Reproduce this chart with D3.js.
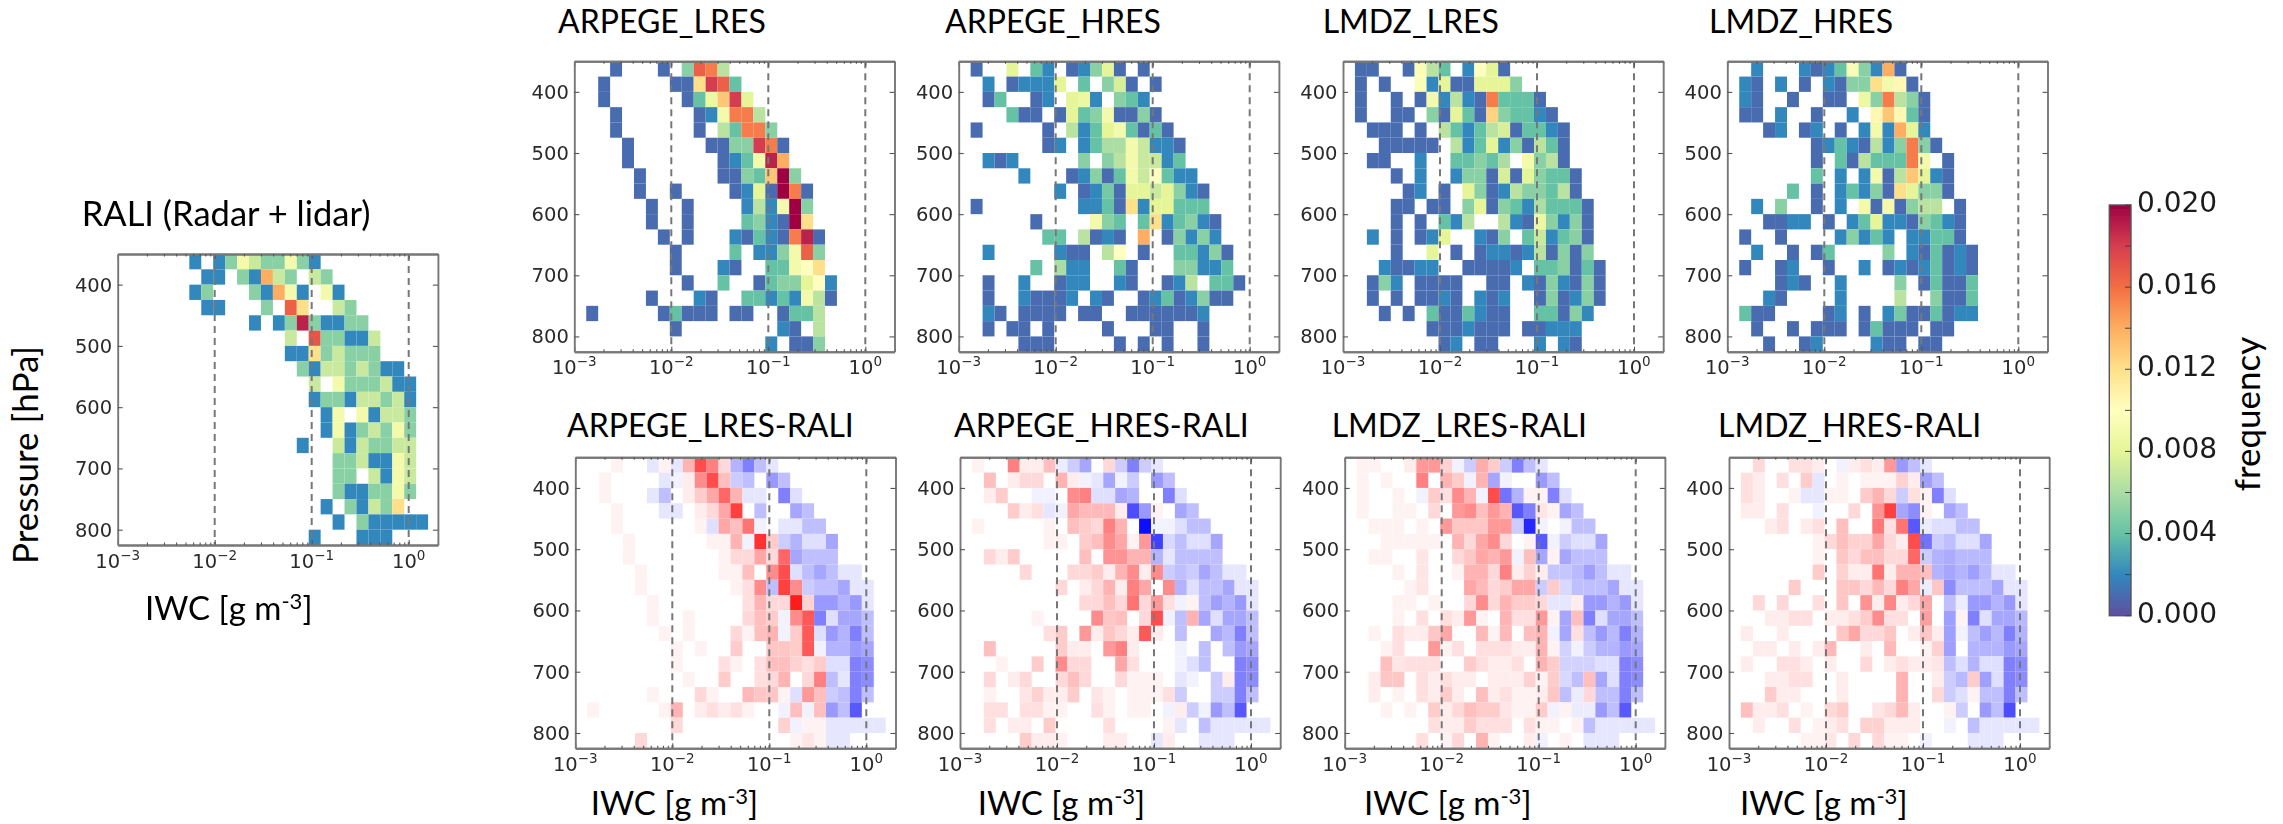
<!DOCTYPE html>
<html><head><meta charset="utf-8">
<script src="https://cdn.jsdelivr.net/npm/d3@7"></script>
<style>html,body{margin:0;background:#fff;overflow:hidden}</style></head><body><div id="c"></div>
<script>
// Each row: first number = first filled column, then values (frequency x 1000, 0 = empty)
const rali=[[6,2,0,2,5,9,7,5,5,9,5,2],[7,2,2,0,5,2,14,7,5,0,7,5],[6,2,5,0,0,0,5,2,14,9,2,0,9,2],[7,2,2,0,0,0,5,0,16.5,12,0,0,7,5],[11,2,0,2,5,19,5,2,2,5,5],[14,7,0,17,5,5,2,2,7],[14,2,2,12,5,7,5,5,5],[15,5,2,7,7,5,7,5,2,2],[16,7,0,9,5,5,5,7,2,2],[16,2,5,5,2,7,7,5,7,2],[17,2,9,0,9,2,7,7,5],[17,2,9,2,5,7,5,9,5],[15,2,0,0,7,2,7,5,5,7,7],[18,5,5,7,2,2,9,7],[18,5,5,0,7,2,9,7],[18,5,2,2,5,5,9,5],[17,2,0,5,2,7,5,12],[18,2,0,5,2,2,2,2,2],[16,2,0,0,0,2,2,2]];
const arpegeL=[[3,1,0,0,0,1,0,5,16.5,15.5,6.5],[2,1,0,0,0,0,0,1,1,12,18,16.5,4],[2,1,0,0,0,0,0,0,1,4,8.5,13,18,8],[3,1,0,0,0,0,0,0,1,2,9,15.5,15.5,6.5],[3,1,0,0,0,0,0,0,1,0,6.5,4,15.5,15.5,5],[4,1,0,0,0,0,0,0,1,1,5,5,18,15.5,1],[4,1,0,0,0,0,0,0,0,1,2,4,9,19,14],[5,1,0,0,0,0,0,0,1,1,5,4,13,20,5],[5,1,0,0,1,0,0,0,0,1,2,8,1,20,15.5,1],[6,1,0,0,1,0,0,0,0,2,6.5,2,9,20,5],[6,1,0,0,1,0,0,0,0,4,5,2,1,20,12],[7,1,0,1,0,0,0,2,1,4,2,1,15.5,19,1],[8,1,0,0,0,0,4,0,2,2,5,9,16.5,5],[8,1,0,0,0,2,1,0,0,4,4,9,10,12],[9,1,0,0,4,0,0,1,4,5,5,8,10,2],[6,1,0,0,0,2,1,0,0,4,4,2,4,2,9,6.5,1],[1,1,0,0,0,0,0,1,4,1,1,1,0,1,1,0,0,1,4,4,6.5],[8,1,0,0,0,0,0,0,0,0,2,1,0,6.5],[16,2,0,1,1,5]];
const arpegeH=[[1,1,0,0,8,0,4,2,0,1,2,5,8,1,0,1],[2,2,0,1,2,2,2,8,0,4,0,5,7.5,1,0,1],[2,1,4,0,0,1,2,0,8,8.5,2,0,5,4,2],[4,4,1,1,0,1,8,4,5,9,1,1,5,1],[1,1,0,0,0,0,0,1,0,6.5,2,4,8,9,4,1,4,1],[7,1,2,0,2,4,6,6,9,7,2,2,1],[2,2,1,2,0,0,0,0,0,5,0,5,6.5,9,7,7,2,4],[5,2,0,0,0,1,2,5,1,4,9,7,10,4,2,2],[8,2,0,1,2,4.5,1,8,8,7,8,5,2,1],[1,1,0,0,0,0,0,0,0,0,2,2,4,1,12,2,8,8,4,4,4],[6,1,0,0,0,0,9,5,4,0,4,12,2,4,5,2,1],[7,4,4,0,6.5,1,2,1,0,14,0,1,5,2,5,2],[2,2,0,0,0,0,0,2,1,1,0,6.5,10,0,1,0,0,4,4,2,5,1],[6,4,0,6,2,2,0,0,4,1,0,0,0,5,5,2,2,4],[2,1,0,0,2,0,0,1,2,2,0,0,2,1,0,0,1,2,6.5,0,4,4,1],[2,1,0,0,2,1,1,1,2,0,2,1,0,0,1,2,4,1,2,5,1,1],[2,2,1,0,1,1,1,1,0,1,1,0,0,1,1,1,1,1,1,2],[2,1,0,1,1,0,1,0,0,0,0,1,0,0,0,1,1,0,0,1],[5,1,1,1,0,0,0,0,0,1,0,1,0,1,0,0,1]];
const lmdzL=[[1,1,1,0,0,1,9.5,6.5,4,0,2,10,8,1],[1,1,0,1,0,0,9.5,2,8,1,1,8,8,8,5],[1,1,0,0,1,0,1,9,2,6.5,2,1,15.5,4,4,4,1],[1,1,0,0,1,1,0,5,1,8,4,1,12.5,5,4,4,2,1],[2,1,1,1,0,1,0,6.5,4,2,4,6.5,7.5,1,4,4,2,1],[3,1,1,1,1,1,0,6.5,2,4,8,2,5,1,6.5,4,1],[2,1,1,0,0,2,0,0,4,4,5,4,6,0,9,5,6.5,1],[4,1,0,2,0,0,2,5,5,1,7.5,1,8,5,4,4,1],[5,1,2,0,1,0,8,5,1,2,6.5,5,5,4,6.5,1],[4,1,1,0,1,1,0,5,8,1,5,4,2,6,4,4,4,1],[4,1,0,1,0,4,2,6.5,0,0,6.5,2,1,8.5,5,2,5,1],[2,2,0,1,0,1,2,8,0,0,2,1,5,0,4,7,2,4,5,1],[4,1,0,0,8,0,1,0,1,2,2,1,2,6.5,1,5,1,5],[3,2,1,1,2,2,0,0,1,1,1,1,2,0,4,4,5,1,4,1],[2,1,5,2,0,1,1,1,1,0,0,1,1,0,2,1,5,2,1,5,1],[2,1,0,1,0,1,1,2,1,0,2,1,2,0,0,1,5,1,2,5,1],[3,1,0,1,0,4,1,1,4,2,1,1,0,0,4,4,1,5,2],[7,1,1,1,2,1,1,1,0,1,1,2,2,2],[8,1,2,0,1,1,0,0,0,2,0,2,1]];
const lmdzH=[[2,2,0,0,0,2,1,2,4,9.5,5,2,14,1],[1,2,1,0,2,0,1,0,2,1,5,5,12,9,10.5,1],[1,2,1,0,0,1,0,0,1,1,0,8.5,5,15.5,6.5,5,1],[1,1,1,0,2,0,0,1,0,0,2,0,10.5,13,10.5,4,1],[3,1,2,0,1,2,0,1,0,2,9,2,14,8,2],[7,1,2,4,2,1,6.5,2,5,15.5,5,1],[7,1,0,4,1,6.5,4,4,4,15.5,9,0,1],[7,4,0,2,0,2,9,1,6.5,13,8,2,1],[5,4,0,1,0,2,4,2,5,1,12,8,5,5,1],[2,2,0,5,0,0,1,0,2,0,9,1,9,1,5,6.5,6.5,0,1],[3,1,1,2,2,0,1,0,2,4,8,2,2,1,5,4,2,1],[1,1,0,0,1,0,0,0,0,2,5,2,4,2,0,2,2,4,4,1],[2,2,0,0,1,0,1,4,0,0,0,0,5,0,2,1,4,1,2,1],[1,1,0,0,1,2,0,0,1,0,0,2,0,1,2,1,2,4,1,2,1],[4,1,2,1,0,0,2,0,0,0,0,5,0,1,4,1,1,4],[3,2,1,0,0,0,0,2,0,0,0,0,6.5,0,0,5,1,1,4],[1,4,1,1,0,0,0,0,1,2,0,1,0,2,4.5,1,1,4,1,2,2],[2,1,0,0,1,0,1,1,1,0,1,4,1,1,1,0,1,1],[3,1,0,0,1,2,0,0,0,0,2,1,1,0,1,1]];
const diffArpegeL=[[3,1,0,0,-2,1,-2,6,14,10,3,-6,-10,-5,-2],[2,1,0,0,0,0,-2,-1,1.5,9,14,5,-4,-5,0,-8,-5],[2,1,0,0,0,-2,-5,0,1.5,4,7,12,6,-2,-2,0,-10,-2.5],[3,1,0,0,0,-2,-2,0,1.5,3,7,15,0,-5,0,0,-7,-5],[3,1,0,0,0,0,0,0,1,-2.5,7,5,11,-1,0,-2,-2,-5,-5],[4,1,0,0,0,0,0,0,1,1,6,-1,16,4,-4,-6,-2.5,-2.5,-7],[4,1,0,0,0,0,0,0,0,1,3,3,7,3,12,-7,-5,-5,-5],[5,1,0,0,0,0,0,0,1,1,5,0,9,14,-2.5,-5,-7,-5,-2,-2],[5,1,0,0,0,0,0,0,0,1,2.5,9,-5,15,9,-4,-5,-5,-7,-2,-2],[6,1,0,0,0,0,0,0,0,2.5,6,3,3,18,3.5,-8,-8,-6,-8,-2],[6,1,0,0,1,0,0,0,0,3,5,4,-1,9,13,-10,-2.5,-7,-7,-5],[7,1,0,1,0,0,0,3,1,5,6,-1,4,13,-2.5,-8,-6,-10,-5],[8,1,0,1,0,0,4,0,0,4.5,4.5,4,13,-1,-6,-6,-8,-7],[8,1,0,0,0,2.5,1,0,2.5,5,5,3.5,2.5,4,-2.5,-2.5,-10,-9],[9,1,0,0,4,0,0,2.5,3,6,0,3,10,-5,-2,-10,-9],[6,1,0,0,0,3,1,0,0,5.5,4.5,4.5,1,-2.5,8,5,-4,-5,-10,-5],[1,1,0,0,0,0,0,1,6,0,1.5,2.5,1.5,2.5,1,0,0,-1,5,-1,5,-8,-5,-13],[8,3,0,0,0,0,0,0,0,0,3.5,-1,1,1,-2,-2,-2,-2,-2],[5,3,0,0,0,0,0,0,0,0,0,0,0,0,1,2,1,-2,-2]];
const diffArpegeH=[[1,1,0,0,10,1.5,1.5,5,-1.5,-4,-7,0,3,-4,-10,-4,-2],[2,5,0,1.5,3,3,0,6,1.5,-1,-2,-7,-1,-4,0,-8,-5],[2,1.5,4,0,0,-1,-1,0,9,10,-2.5,-2.5,-7,-6,0,0,-10,-2.5],[4,4,1.5,2.5,-2,-1,7,5.5,5.5,5.5,1.5,-14,-8,1,0,-7,-5],[1,1,0,0,0,0,0,1,0,5,4,3,10,6,0,-19,-1,-1,-2.5,-5,-5],[7,1,1,0,4,5,9,7,1,8,-15,-3,-5,-2.5,-2.5,-7],[2,3,1.5,4,0,0,0,0,0,5,0,8.5,8.5,6,6,-6,-2,-5,-5,-5,-5],[5,3,0,0,0,3,3,4,1.5,6,9,1.5,9,-4,-5,-4,-7,-5,-2,-2],[8,3,0,1.5,3,6,1.5,10,7,0,9,-6,-2.5,-5,-5,-7,-2,-2],[10,3,3,5,3,11,3,8,2.5,-1,1,-5,-7.5,-6,-8,-2],[6,1,0,0,0,0,9,4.5,5,0,3,14,-1,-5,6,-7,-2.5,-7,-7,-5],[7,2.5,4,0,8,1.5,4.5,3,1.5,13,1.5,0,-5,0,0,-7,-5.5,-10,-5],[2,5,0,0,0,0,0,4,1.5,1.5,0,8,10,1.5,0,0,0,-1,0,-5,0,-5,-8,-7],[3,1,0,0,4,0,9,3,3,0,0,7,2.5,0,0,0,-1,-2.5,-5,0,0,-10,-9],[2,3,0,1.5,3,0,0,3,5,3,0,0,3,1,1,1,0,-2,-1,0,-4,1.5,-10,-9],[2,1,0,0,2,3.5,1.5,1.5,4,0,2,1,0,1,1,1,2.5,-4,0,0,-4,-4,-10,-5],[2,2.5,2.5,0,2.5,2.5,1,1,0,0,2.5,1,0,1,1,0,-1,1.5,-4,-1,-8,-5,-13],[2,2.5,0,1.5,1.5,0,4,0,0,0,0,2.5,0,0,0,0,1,-2,0,-5,-2,-2,-2,-2,-2],[5,4,1.5,1.5,1,0,0,0,1.5,1.5,0,0,-2,1.5,0,0,-2,-2,-2]];
const diffLmdzL=[[1,1,1,0,0,1.5,8,8,3.5,-1,-4,6.5,4,-4,-10,-5,-2],[1,1,0,1,0,0,10,0,6,4,-1,6,-7,-1,0,0,-8,-5],[1,1,0,0,1,0,-1,4,2.5,9,6,-1,14,-11,-6,1,1,-10,-2.5],[1,1,0,0,1,1,0,3,0,8,9,5,8,6,-13,-10,2,1,-7,-5],[2,1,1,1,0,1,0,8,4.5,4.5,4.5,8,8,-4,-17,-1,0,-1,-5,-5],[3,1,1,1,1,1,0,6,3,7,9,3,0,1,-13,-1,-4,-2.5,-2.5,-7],[2,1,1,0,0,2,0,0,3,4.5,7,6,8,-1,5,-7,1,-7,-5,-5,-5],[4,1,0,2,0,0,1,6,6,3,10,1.5,3.5,1.5,-4.5,-4.5,-5.5,-7.5,-5,-2,-2],[5,1,2,0,0,0,7,5.5,3,4,7,7,-4,4,-3,-5,-5,-5,-7,-2,-2],[4,1,1,0,1,0,0,3,9,3,6,4,4,3,-2,-2,1.5,-8,-8,-6,-8,-2],[4,1,0,2.5,0,2.5,1.5,8,1,0,6,2.5,2.5,8,1,-7,5,-10,-2.5,-7,-7,-5],[2,1,0,2.5,1.5,1.5,4.5,7,0,0,5.5,1,5.5,0,5,6,-1,-7,2.5,-5,-8,-5.5,-10,-6],[3,1,2.5,0,0,8,1,2.5,0,2.5,2.5,2.5,1.5,1.5,6,1,-3.5,-1,-4,-6,-6,-8,-7],[3,5,2,2.5,2.5,2.5,0,0,4,2.5,1.5,1.5,2.5,0,6,4,-3.5,-3.5,-3.5,-2.5,-2.5,-10,-9],[2,1.5,4.5,4.5,0,2.5,1.5,2.5,1.5,1.5,0,1.5,1.5,1.5,3.5,1,4,-3,-5,5,-7,-2.5,-10,-9],[2,1.5,0,1,0,2.5,1.5,4,1.5,0,5,1.5,2.5,1,1,1.5,4.5,-5,-1.5,3,-5,-5,-10,-5],[3,1,0,1,0,4,1.5,3,5,4,4,2,1,1,4,-1,1,-1.5,-1.5,-8,-5,-13],[7,2.5,1.5,1.5,4,2.5,2.5,2.5,0,2.5,1,1,0,1,-5,-2,-2,-2,-2,-2],[6,2.5,0,1,3,0,6,1,0,0,1.5,-1,0,1,0,-2,-2,-2]];
const diffLmdzH=[[2,3,0,0,2.5,2.5,1.5,0,-1,1.5,2.5,1.5,8,-8,-5,-2],[1,2.5,1.5,0,2.5,0,4,-2,0,1,0,1,1,1,3.5,1.5,-7.5,-5],[1,2.5,1.5,0,0,1,-2,-2,1,1,0,4,6,3,-4,2.5,1,-10,-2.5],[1,1.5,1.5,0,2.5,0,0,-1,0,0,3,0,8.5,15,-7,-9,1,0,-7,-5],[3,1.5,2.5,0,1.5,2.5,0,5,0,0,10.5,2.5,11,-13,-1.5,-2.5,-2.5,-5,-5],[7,1,3,5,3.5,3.5,7,3,1.5,14,-11,-4,-5,-2.5,-2.5,-7],[7,1,0,4.5,3,5,5,3,3,12,-4,-6,-6.5,-5.5,-5.5,-5.5],[7,4,0,3.5,1.5,1.5,11,1.5,6,6,5,-6,-7,-6,-7.5,-5.5,-2,-2],[5,4,0,0,0,4.5,4.5,3,5.5,3,10,7,-1.5,4.5,-9,-5,-5,-5,-7,-2,-2],[2,3,0,3,0,0,2.5,0,4.5,0,8.5,1.5,9.5,1.5,3,7,0,-5,-1.5,-8,-8,-6,-8,-2],[3,1.5,1.5,2.5,2.5,0,1.5,1.5,2.5,4,9,2.5,2.5,0,7.5,0,-7.5,1,-10,-2.5,-7,-7,-5.5],[1,1.5,0,0,1.5,0,0,0,0,4.5,7,3,3,4.5,0,1.5,4.5,1.5,-7.5,-1,-5,-7.5,-5.5,-10,-6],[2,1.5,1.5,0,1.5,0,1.5,5.5,0,0,1.5,0,5.5,0,0,1,3.5,-7.5,0,-6,-6,-6,-8,-7],[1,1.5,0,0,2.5,2.5,1.5,0,1.5,0,0,3,0,1.5,2.5,1.5,1.5,2,-5,-2.5,-6,-2.5,-2.5,-10,-9],[3,1.5,1.5,2.5,2.5,0,0,1.5,0,0,0,0,6,0,0,1.5,-4,-5.5,4,-7.5,-2.5,-10,-9],[3,4,1.5,1.5,0,0,0,1.5,0,0,0,0,6,0,0,3,-4,-2.5,1,-5,-5,-10,-5],[1,5,1.5,1.5,2.5,0,1,0,3,4,0,0,2,3,5.5,1.5,0,0,1,-4,0,-8,-5,-14],[2,1.5,0,0,2.5,0,1,1.5,2.5,0,3.5,3.5,1.5,1.5,1.5,0,0,-1,0,-5,-2,-2,-2,-2,-2],[6,1,1,2,0,3,0,3,1,1,0,-1,0,0,0,-2,-2,-2]];

const xDecades=[-3,-2,-1,0];
const xRefLines=[0.01,0.1,1];
const yTicks=[400,500,600,700,800];
const pressureEdges=d3.range(350,826,25);
const log10Edges=d3.range(27).map(k=>-3+k*3.2/26);
const cbarTicks=[0,4,8,12,16,20];
const cbarMinor=[2,6,10,14,18];

const W=2283,H=824;
const svg=d3.select("#c").append("svg").attr("width",W).attr("height",H).style("display","block");
const defs=svg.append("defs");
defs.append("filter").attr("id","soft").attr("x","-5%").attr("y","-5%").attr("width","110%").attr("height","110%")
  .append("feGaussianBlur").attr("stdDeviation",0.55);
svg.append("rect").attr("width",W).attr("height",H).attr("fill","#fff");

const spectral=d3.scaleLinear().domain(d3.range(0,21,2))
  .range(["#5e4fa2","#3288bd","#66c2a5","#abdda4","#e6f598","#ffffbf","#fee08b","#fdae61","#f46d43","#d53e4f","#9e0142"]);
const bwr=d3.scaleLinear().domain([-20,0,20]).range(["#0000ff","#ffffff","#ff0000"]);

const CAL="Lato, Carlito, sans-serif", DJ="'DejaVu Sans', sans-serif", TXT="#2a2a2a";

function panel(o){
  const w=320.2,h=o.h;
  const x=d3.scaleLog().domain([1e-3,2]).range([o.x,o.x+w]);
  const y=d3.scaleLinear().domain([350,825]).range([o.y,o.y+h]);
  const g=svg.append("g").attr("filter","url(#soft)");
  const cells=[];
  o.data.forEach((row,r)=>row.slice(1).forEach((v,i)=>{ if(v!==0) cells.push({r,c:row[0]+i,v}); }));
  g.selectAll("rect.cell").data(cells).join("rect").attr("class","cell")
    .attr("x",d=>x(Math.pow(10,log10Edges[d.c])))
    .attr("width",d=>x(Math.pow(10,log10Edges[d.c+1]))-x(Math.pow(10,log10Edges[d.c])))
    .attr("y",d=>y(pressureEdges[d.r]))
    .attr("height",d=>y(pressureEdges[d.r+1])-y(pressureEdges[d.r]))
    .attr("fill",d=>o.color(d.v));
  g.selectAll("line.ref").data(xRefLines).join("line").attr("class","ref")
    .attr("x1",d=>x(d)).attr("x2",d=>x(d)).attr("y1",o.y).attr("y2",o.y+h)
    .attr("stroke","#777").attr("stroke-width",2).attr("stroke-dasharray","7,5");
  const majors=xDecades.map(d=>Math.pow(10,d));
  const minors=[];
  xDecades.forEach(d=>d3.range(2,10).forEach(m=>{const v=m*Math.pow(10,d); if(v<=2) minors.push(v);}));
  const ax=(gen,tx,ty)=>{
    const a=g.append("g").attr("transform",`translate(${tx},${ty})`).call(gen);
    a.selectAll("text").remove();
    a.select(".domain").attr("stroke","#777").attr("stroke-width",1.9);
    a.selectAll(".tick line").attr("stroke","#555").attr("stroke-width",1.1);
    return a;
  };
  ax(d3.axisBottom(x).tickValues(majors).tickSize(-5).tickSizeOuter(0),0,o.y+h);
  ax(d3.axisBottom(x).tickValues(minors).tickSize(-2.5).tickSizeOuter(0),0,o.y+h);
  ax(d3.axisTop(x).tickValues(majors).tickSize(-5).tickSizeOuter(0),0,o.y);
  ax(d3.axisTop(x).tickValues(minors).tickSize(-2.5).tickSizeOuter(0),0,o.y);
  ax(d3.axisLeft(y).tickValues(yTicks).tickSize(-5).tickSizeOuter(0),o.x,0);
  ax(d3.axisRight(y).tickValues(yTicks).tickSize(-5).tickSizeOuter(0),o.x+w,0);
  xDecades.forEach(d=>{
    const t=g.append("text").attr("x",x(Math.pow(10,d))).attr("y",o.y+h+22.5)
      .attr("text-anchor","middle").attr("font-family",DJ).attr("font-size",19.5).attr("fill",TXT);
    t.append("tspan").text("10");
    t.append("tspan").attr("font-size",13.5).attr("dy",-8).text(d===0?"0":"\u2212"+Math.abs(d));
  });
  yTicks.forEach(v=>g.append("text").attr("x",o.x-5.5).attr("y",y(v)+7).attr("text-anchor","end")
    .attr("font-family",DJ).attr("font-size",19.5).attr("fill",TXT).text(v));
  svg.append("text").attr("x",o.tx).attr("y",o.ty).attr("font-family",CAL).attr("font-size",o.tfs||32).attr("fill","#000").text(o.title);
  if(o.lx!==undefined){
    const l=svg.append("text").attr("x",o.lx).attr("y",o.ly).attr("font-family",CAL).attr("font-size",33).attr("fill","#000");
    l.append("tspan").text("IWC [g m");
    l.append("tspan").attr("font-size",22).attr("dy",-11).text("-3");
    l.append("tspan").attr("dy",11).text("]");
  }
}

panel({data:rali,color:spectral,x:117.7,y:254,h:291,title:"RALI (Radar + lidar)",tx:81.7,ty:226,tfs:34.5,lx:145,ly:620});
panel({data:arpegeL,color:spectral,x:574.3,y:61.3,h:290.4,title:"ARPEGE_LRES",tx:558,ty:33});
panel({data:arpegeH,color:spectral,x:958.7,y:61.3,h:290.4,title:"ARPEGE_HRES",tx:945,ty:33});
panel({data:lmdzL,color:spectral,x:1343,y:61.3,h:290.4,title:"LMDZ_LRES",tx:1322.7,ty:33});
panel({data:lmdzH,color:spectral,x:1727.3,y:61.3,h:290.4,title:"LMDZ_HRES",tx:1709,ty:33});
panel({data:diffArpegeL,color:bwr,x:575.3,y:457.3,h:291,title:"ARPEGE_LRES-RALI",tx:567,ty:436.7,lx:590.7,ly:815});
panel({data:diffArpegeH,color:bwr,x:960,y:457.3,h:291,title:"ARPEGE_HRES-RALI",tx:954,ty:436.7,lx:977.7,ly:815});
panel({data:diffLmdzL,color:bwr,x:1344.7,y:457.3,h:291,title:"LMDZ_LRES-RALI",tx:1331.7,ty:436.7,lx:1364,ly:815});
panel({data:diffLmdzH,color:bwr,x:1729,y:457.3,h:291,title:"LMDZ_HRES-RALI",tx:1718,ty:436.7,lx:1740,ly:815});

svg.append("text").attr("transform","translate(38,455) rotate(-90)").attr("text-anchor","middle")
  .attr("font-family",CAL).attr("font-size",35).attr("fill","#000").text("Pressure [hPa]");

const cb={x:2109.3,w:21.7,y0:205,y1:615.7};
const cy=d3.scaleLinear().domain([0,20]).range([cb.y1,cb.y0]);
const grad=defs.append("linearGradient").attr("id","cbar").attr("x1",0).attr("x2",0).attr("y1",1).attr("y2",0);
spectral.domain().forEach(v=>grad.append("stop").attr("offset",v/20).attr("stop-color",spectral(v)));
const cg=svg.append("g").attr("filter","url(#soft)");
cg.append("rect").attr("x",cb.x).attr("y",cb.y0).attr("width",cb.w).attr("height",cb.y1-cb.y0)
  .attr("fill","url(#cbar)").attr("stroke","#555").attr("stroke-width",1.4);
cg.selectAll("line.t").data(cbarTicks.concat(cbarMinor)).join("line").attr("class","t")
  .attr("x1",cb.x+cb.w-6).attr("x2",cb.x+cb.w).attr("y1",d=>cy(d)).attr("y2",d=>cy(d))
  .attr("stroke","#444").attr("stroke-width",1);
cg.selectAll("text").data(cbarTicks).join("text").attr("x",2137).attr("y",d=>cy(d)+7)
  .attr("font-family",DJ).attr("font-size",28).attr("fill","#1a1a1a").text(d=>(d/1000).toFixed(3));
svg.append("text").attr("transform","translate(2260,414) rotate(-90)").attr("text-anchor","middle")
  .attr("font-family",CAL).attr("font-size",35).attr("fill","#000").text("frequency");
</script></body></html>
